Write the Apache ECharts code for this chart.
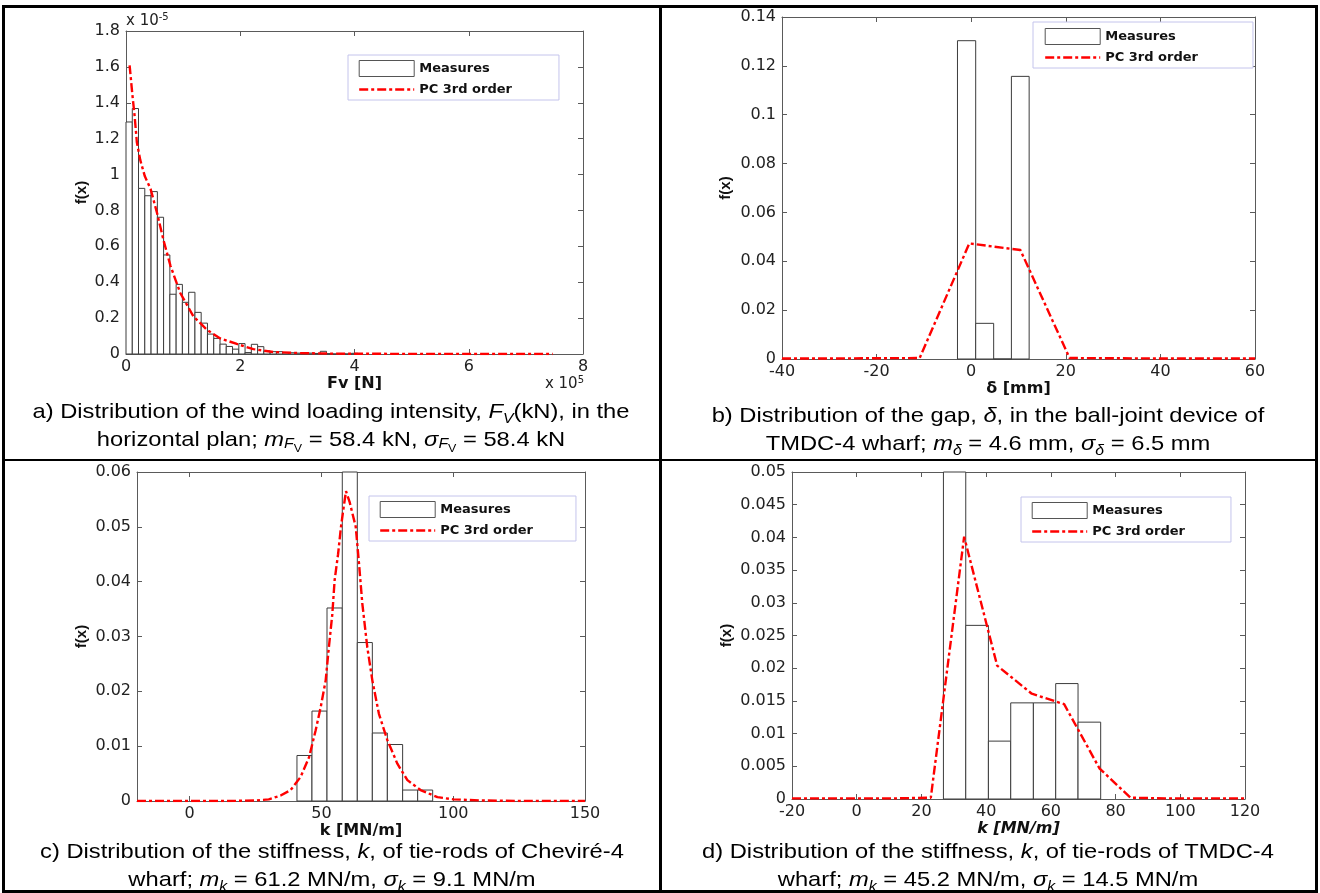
<!DOCTYPE html>
<html><head><meta charset="utf-8">
<script src="https://cdn.jsdelivr.net/npm/echarts@6/dist/echarts.min.js"></script>
<style>html,body{margin:0;padding:0;background:#fff}#c{width:1320px;height:893px}</style>
</head><body><div id="c"></div>
<script>
// ---------------- DATA ----------------
// Panel a: wind loading intensity (x in 1e5 N, y in 1e-5)
const aBinEdges = [0, 0.110, 0.219, 0.329, 0.439, 0.549, 0.658, 0.768, 0.878, 0.987, 1.097, 1.207, 1.316, 1.426, 1.536, 1.646, 1.755, 1.865, 1.975, 2.084, 2.194, 2.304, 2.413, 2.523, 2.633, 2.743, 2.852, 2.962, 3.072, 3.181, 3.291, 3.401, 3.510, 3.620, 3.730, 3.839, 3.949, 4.059];
const aBinHeights = [1.293, 1.368, 0.923, 0.882, 0.905, 0.762, 0.552, 0.333, 0.388, 0.288, 0.344, 0.232, 0.172, 0.111, 0.087, 0.055, 0.042, 0.027, 0.058, 0.008, 0.054, 0.041, 0.017, 0.013, 0.013, 0.007, 0.007, 0.005, 0.007, 0.005, 0.003, 0.015, 0.002, 0, 0.002, 0, 0.004];
const aCurveX = [0.063, 0.11, 0.15, 0.19, 0.25, 0.33, 0.43, 0.54, 0.66, 0.78, 0.95, 1.18, 1.42, 1.65, 1.94, 2.23, 2.58, 3.05, 3.6, 4.5, 5.5, 6.5, 7.47];
const aCurveY = [1.609, 1.45, 1.33, 1.18, 1.08, 0.99, 0.92, 0.79, 0.63, 0.49, 0.34, 0.21, 0.134, 0.087, 0.056, 0.027, 0.011, 0.005, 0.002, 0.001, 0.0005, 0.0003, 0.0002];
const aXTicks = [0, 2, 4, 6, 8];
const aYTicks = [0, 0.2, 0.4, 0.6, 0.8, 1, 1.2, 1.4, 1.6, 1.8];

// Panel b: gap delta (mm)
const bBinEdges = [-2.9, 0.95, 4.75, 8.5, 12.25];
const bBinHeights = [0.1303, 0.0146, 0, 0.1157];
const bCurveX = [-40, -32.1, -21.5, -10.9, -0.4, 10.4, 20.8, 31.3, 41.8, 52.3, 60];
const bCurveY = [0.0002, 0.0002, 0.0003, 0.0004, 0.0473, 0.0446, 0.0004, 0.0003, 0.0002, 0.0002, 0.0002];
const bXTicks = [-40, -20, 0, 20, 40, 60];
const bYTicks = [0, 0.02, 0.04, 0.06, 0.08, 0.1, 0.12, 0.14];

// Panel c: stiffness k, Chevire-4 (MN/m)
const cBinEdges = [40.7, 46.4, 52.1, 57.9, 63.6, 69.3, 75.0, 80.8, 86.5, 92.2];
const cBinHeights = [0.0083, 0.0164, 0.0352, 0.0605, 0.0289, 0.0124, 0.0103, 0.0020, 0.0020];
const cCurveX = [-20, 0, 15, 25, 30, 34.5, 38.3, 42.1, 45.3, 47.8, 49.7, 51.6, 52.8, 54.1, 55, 56.3, 57.4, 58.4, 59.3, 60.7, 63, 64.3, 65.5, 67.4, 69.3, 71.8, 75, 78.8, 82.6, 87.6, 94, 100, 110, 125, 150];
const cCurveY = [0, 0, 0, 0.0001, 0.0003, 0.001, 0.002, 0.0044, 0.008, 0.0129, 0.0171, 0.022, 0.028, 0.034, 0.0403, 0.045, 0.05, 0.0535, 0.0565, 0.0545, 0.05, 0.043, 0.036, 0.028, 0.022, 0.0159, 0.0111, 0.0068, 0.0038, 0.002, 0.0007, 0.0003, 0.0001, 0, 0];
const cXTicks = [0, 50, 100, 150];
const cYTicks = [0, 0.01, 0.02, 0.03, 0.04, 0.05, 0.06];

// Panel d: stiffness k, TMDC-4 (MN/m)
const dBinEdges = [26.8, 33.7, 40.7, 47.6, 54.6, 61.5, 68.4, 75.4];
const dBinHeights = [0.06, 0.02655, 0.00885, 0.0147, 0.0147, 0.01765, 0.01175];
const dCurveX = [-20, -8.4, 2.0, 12.4, 22.9, 33.2, 43.4, 54.1, 64.1, 75.0, 84.6, 95.4, 105.8, 116.2, 120];
const dCurveY = [0.0001, 0.0001, 0.0001, 0.0001, 0.0002, 0.0401, 0.0204, 0.0161, 0.0145, 0.0047, 0.0002, 0.0001, 0.0001, 0.0001, 0.0001];
const dXTicks = [-20, 0, 20, 40, 60, 80, 100, 120];
const dYTicks = [0, 0.005, 0.01, 0.015, 0.02, 0.025, 0.03, 0.035, 0.04, 0.045, 0.05];

// ---------------- STYLE / LAYOUT ----------------
const TICK_FONT = "'DejaVu Sans', sans-serif";
const CAP_FONT = "'Liberation Sans', Arial, sans-serif";
const AXIS_COLOR = '#5a5a5a';
const RED_DASH = [9, 3, 3, 3];

const panels = [
  {edges: aBinEdges, heights: aBinHeights, cx: aCurveX, cy: aCurveY, xt: aXTicks, yt: aYTicks,
   grid: {left: 126, top: 31, width: 457, height: 323}, xName: 'Fv [N]', xItalic: false, xGap: 18, yGap: 37,
   legend: {left: 348, top: 55, padding: [5, 47, 4, 10]}},
  {edges: bBinEdges, heights: bBinHeights, cx: bCurveX, cy: bCurveY, xt: bXTicks, yt: bYTicks,
   grid: {left: 782, top: 17, width: 473, height: 342}, xName: 'δ [mm]', xItalic: false, xGap: 19, yGap: 49,
   legend: {left: 1033, top: 22, padding: [6, 55, 4, 11]}},
  {edges: cBinEdges, heights: cBinHeights, cx: cCurveX, cy: cCurveY, xt: cXTicks, yt: cYTicks,
   grid: {left: 137, top: 472, width: 448, height: 329}, xName: 'k [MN/m]', xItalic: false, xGap: 17, yGap: 48,
   legend: {left: 369, top: 496, padding: [5, 43, 4, 10]}, xMin: -20, xMax: 150},
  {edges: dBinEdges, heights: dBinHeights, cx: dCurveX, cy: dCurveY, xt: dXTicks, yt: dYTicks,
   grid: {left: 792, top: 472, width: 453, height: 327}, xName: 'k [MN/m]', xItalic: true, xGap: 17, yGap: 58,
   legend: {left: 1021, top: 497, padding: [5, 46, 4, 10]}}
];

function histRender(params, api) {
  const p0 = api.coord([api.value(0), 0]);
  const p1 = api.coord([api.value(1), api.value(2)]);
  const rect = {x: p0[0], y: p1[1], width: p1[0] - p0[0], height: p0[1] - p1[1]};
  const cs = params.coordSys;
  const clipped = echarts.graphic.clipRectByRect(rect, {x: cs.x, y: cs.y, width: cs.width, height: cs.height + 1});
  if (!clipped) return null;
  return {type: 'rect', shape: clipped, style: {fill: '#fff', stroke: '#3c3c3c', lineWidth: 1}};
}

const grids = [], xAxes = [], yAxes = [], series = [], legends = [];
panels.forEach((p, i) => {
  grids.push(Object.assign({containLabel: false}, p.grid));
  const xMin = p.xMin !== undefined ? p.xMin : p.xt[0];
  const xMax = p.xMax !== undefined ? p.xMax : p.xt[p.xt.length - 1];
  const xInterval = p.xt[1] - p.xt[0];
  const yMin = p.yt[0], yMax = p.yt[p.yt.length - 1];
  const yInterval = p.yt[1] - p.yt[0];
  const tick = {show: true, inside: true, length: 5, lineStyle: {color: AXIS_COLOR}, customValues: p.xt};
  const line = {show: true, onZero: false, lineStyle: {color: AXIS_COLOR, width: 1}};
  const baseX = {gridIndex: i, type: 'value', min: xMin, max: xMax, splitLine: {show: false}, axisLine: line};
  if (p.xMin === undefined) baseX.interval = xInterval;
  xAxes.push(Object.assign({}, baseX, {
    position: 'bottom', axisTick: tick,
    axisLabel: {fontFamily: TICK_FONT, fontSize: 16, color: '#222', margin: 5, customValues: p.xt},
    name: p.xName, nameLocation: 'middle', nameGap: p.xGap,
    nameTextStyle: {fontFamily: TICK_FONT, fontSize: 16, fontWeight: 'bold', fontStyle: p.xItalic ? 'italic' : 'normal', color: '#111'}
  }));
  xAxes.push(Object.assign({}, baseX, {position: 'top', axisTick: tick, axisLabel: {show: false, customValues: p.xt}}));
  const ytick = {show: true, inside: true, length: 5, lineStyle: {color: AXIS_COLOR}, customValues: p.yt};
  const baseY = {gridIndex: i, type: 'value', min: yMin, max: yMax, interval: yInterval, splitLine: {show: false}, axisLine: line};
  yAxes.push(Object.assign({}, baseY, {
    position: 'left', axisTick: ytick,
    axisLabel: {fontFamily: TICK_FONT, fontSize: 16, color: '#222', margin: 6, customValues: p.yt},
    name: 'f(x)', nameLocation: 'middle', nameGap: p.yGap,
    nameTextStyle: {fontFamily: CAP_FONT, fontSize: 15, fontWeight: 'bold', color: '#111'}
  }));
  yAxes.push(Object.assign({}, baseY, {position: 'right', axisTick: ytick, axisLabel: {show: false, customValues: p.yt}}));

  const histData = p.heights.map((h, k) => [p.edges[k], p.edges[k + 1], h]);
  series.push({
    type: 'custom', name: 'Measures', xAxisIndex: 2 * i, yAxisIndex: 2 * i,
    renderItem: histRender, data: histData, encode: {x: [0, 1], y: 2},
    itemStyle: {color: '#fff', borderColor: '#3c3c3c'}, silent: true, z: 2
  });
  series.push({
    type: 'line', name: 'PC 3rd order', xAxisIndex: 2 * i, yAxisIndex: 2 * i,
    data: p.cx.map((x, k) => [x, p.cy[k]]), symbol: 'none', showSymbol: false, clip: true,
    lineStyle: {color: '#ff0000', width: 2.4, type: RED_DASH}, itemStyle: {color: '#ff0000'},
    silent: true, z: 3
  });
  legends.push(Object.assign({
    orient: 'vertical', itemWidth: 55, itemHeight: 16, itemGap: 6,
    borderColor: '#c4c4ec', borderWidth: 1, borderRadius: 0, backgroundColor: '#fff',
    selectedMode: false,
    textStyle: {fontFamily: TICK_FONT, fontWeight: 'bold', fontSize: 13, color: '#111'},
    data: [
      {name: 'Measures', icon: 'rect', itemStyle: {color: '#fff', borderColor: '#555', borderWidth: 1}},
      {name: 'PC 3rd order', itemStyle: {opacity: 0, color: 'rgba(0,0,0,0)', borderWidth: 0},
       lineStyle: {color: '#ff0000', width: 2.4, type: RED_DASH, opacity: 1}}
    ]
  }, p.legend));
});

// captions
const capRich = {
  n: {fontFamily: CAP_FONT, fontSize: 21, lineHeight: 28, fill: '#000'},
  i: {fontFamily: CAP_FONT, fontSize: 21, lineHeight: 28, fontStyle: 'italic', fill: '#000'},
  s: {fontFamily: CAP_FONT, fontSize: 14, lineHeight: 14, fontStyle: 'italic', verticalAlign: 'bottom', fill: '#000'},
  sf: {fontFamily: CAP_FONT, fontSize: 14, lineHeight: 14, fontStyle: 'italic', verticalAlign: 'bottom', padding: [0, 0, 3, 0], fill: '#000'},
  ss: {fontFamily: CAP_FONT, fontSize: 11, lineHeight: 11, verticalAlign: 'bottom', fill: '#000'}
};
const captions = [
  {x: 331, y: 426, text: '{n|a) Distribution of the wind loading intensity, }{i|F}{s|V}{n|(kN), in the}\n{n|horizontal plan; }{i|m}{sf|F}{ss|V}{n| = 58.4 kN, }{i|σ}{sf|F}{ss|V}{n| = 58.4 kN}'},
  {x: 988, y: 430, text: '{n|b) Distribution of the gap, }{i|δ}{n|, in the ball-joint device of}\n{n|TMDC-4 wharf; }{i|m}{s|δ}{n| = 4.6 mm, }{i|σ}{s|δ}{n| = 6.5 mm}'},
  {x: 332, y: 866, text: '{n|c) Distribution of the stiffness, }{i|k}{n|, of tie-rods of Cheviré-4}\n{n|wharf; }{i|m}{s|k}{n| = 61.2 MN/m, }{i|σ}{s|k}{n| = 9.1 MN/m}'},
  {x: 988, y: 866, text: '{n|d) Distribution of the stiffness, }{i|k}{n|, of tie-rods of TMDC-4}\n{n|wharf; }{i|m}{s|k}{n| = 45.2 MN/m, }{i|σ}{s|k}{n| = 14.5 MN/m}'}
];

const graphics = [];
// table borders
[[2, 5, 1316, 3], [2, 5, 3, 888], [1315, 5, 3, 888], [2, 890, 1316, 3], [659, 5, 3, 888], [2, 459, 1316, 2]].forEach(r => {
  graphics.push({type: 'rect', shape: {x: r[0], y: r[1], width: r[2], height: r[3]}, style: {fill: '#000'}, silent: true, z: 10});
});
captions.forEach(c => {
  graphics.push({type: 'text', x: c.x, y: c.y, scaleX: 1.13, silent: true,
    style: {text: c.text, rich: capRich, fontFamily: CAP_FONT, fontSize: 21, fill: '#000',
      align: 'center', verticalAlign: 'middle', textAlign: 'center', textVerticalAlign: 'middle'}});
});
const expRich = {
  m: {fontFamily: TICK_FONT, fontSize: 15, lineHeight: 18, fill: '#222'},
  p: {fontFamily: TICK_FONT, fontSize: 10, lineHeight: 10, verticalAlign: 'top', fill: '#222'}
};
graphics.push({type: 'text', x: 126, y: 21, silent: true,
  style: {text: '{m|x 10}{p|-5}', rich: expRich, align: 'left', verticalAlign: 'middle', textAlign: 'left', textVerticalAlign: 'middle'}});
graphics.push({type: 'text', x: 584, y: 384, silent: true,
  style: {text: '{m|x 10}{p|5}', rich: expRich, align: 'right', verticalAlign: 'middle', textAlign: 'right', textVerticalAlign: 'middle'}});

const chart = echarts.init(document.getElementById('c'), null, {renderer: 'canvas'});
chart.setOption({
  animation: false,
  backgroundColor: '#fff',
  grid: grids, xAxis: xAxes, yAxis: yAxes, series: series, legend: legends,
  graphic: {elements: graphics}
});
</script></body></html>
